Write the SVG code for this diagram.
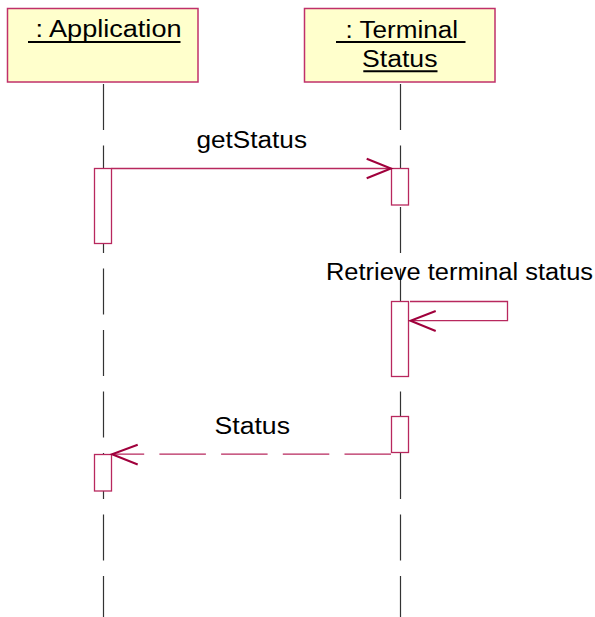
<svg xmlns="http://www.w3.org/2000/svg" width="595" height="617" viewBox="0 0 595 617">
<style>
.obj{fill:#FFFFCC;stroke:#C0306A;stroke-width:1.5}
.act{fill:#FFFFFF;stroke:#B8285E;stroke-width:1.3}
.life{stroke:#333333;stroke-width:1.2;stroke-dasharray:46 15.5;fill:none}
.msg{stroke:#B8285E;stroke-width:1.3;fill:none}
.ret{stroke:#B8285E;stroke-width:1.3;fill:none;stroke-dasharray:46.5 15.2}
.head{stroke:#A0003C;stroke-width:2;fill:none}
.t{font-family:"Liberation Sans",Arial,sans-serif;font-size:23.5px;fill:#000000}
.ul{stroke:#000000;stroke-width:2}
</style>
<rect width="595" height="617" fill="#FFFFFF"/>
<g id="lifelines">
<line class="life" x1="103.5" y1="84" x2="103.5" y2="617"/>
<line class="life" x1="400.5" y1="84" x2="400.5" y2="617"/>
</g>
<g id="application">
<rect class="obj" x="7.5" y="8.5" width="190.5" height="73.5"/>
<text class="t" x="35.5" y="37" textLength="146" lengthAdjust="spacingAndGlyphs">: Application</text>
<line class="ul" x1="28" y1="42" x2="180.5" y2="42"/>
</g>
<g id="terminal-status">
<rect class="obj" x="304.5" y="8.5" width="190.5" height="73.5"/>
<text class="t" x="345.5" y="37.5" textLength="112.5" lengthAdjust="spacingAndGlyphs">: Terminal</text>
<line class="ul" x1="336" y1="42" x2="465.5" y2="42"/>
<text class="t" x="362" y="67" textLength="75.5" lengthAdjust="spacingAndGlyphs">Status</text>
<line class="ul" x1="363.3" y1="71.3" x2="437.5" y2="71.3"/>
</g>
<g id="activations">
<rect id="app-act1" class="act" x="94.5" y="168.5" width="17" height="75"/>
<rect id="term-act1" class="act" x="391.5" y="168.5" width="17" height="36.5"/>
<rect id="term-act2" class="act" x="391.5" y="301.5" width="17" height="75"/>
<rect id="term-act3" class="act" x="391.5" y="416.5" width="17" height="36"/>
<rect id="app-act2" class="act" x="94.5" y="454.5" width="17" height="36.5"/>
</g>
<g id="connectors">
<line class="msg" x1="111.5" y1="168.5" x2="391" y2="168.5"/>
<polyline class="head" points="366.7,158.7 391,168.5 366.7,178.3"/>
<path class="msg" d="M410 301.5 H507.5 V320.7 H411"/>
<polyline class="head" points="435.7,311 410.5,320.7 435.7,331"/>
<line class="ret" x1="391" y1="454.2" x2="112" y2="454.2"/>
<polyline class="head" points="137.7,444.7 112,454.2 137.7,464.5"/>
</g>
<g id="labels">
<text class="t" x="196.5" y="148" textLength="110.5" lengthAdjust="spacingAndGlyphs">getStatus</text>
<text class="t" x="326" y="280" textLength="267" lengthAdjust="spacingAndGlyphs">Retrieve terminal status</text>
<text class="t" x="214.5" y="434" textLength="75.5" lengthAdjust="spacingAndGlyphs">Status</text>
</g>
</svg>
